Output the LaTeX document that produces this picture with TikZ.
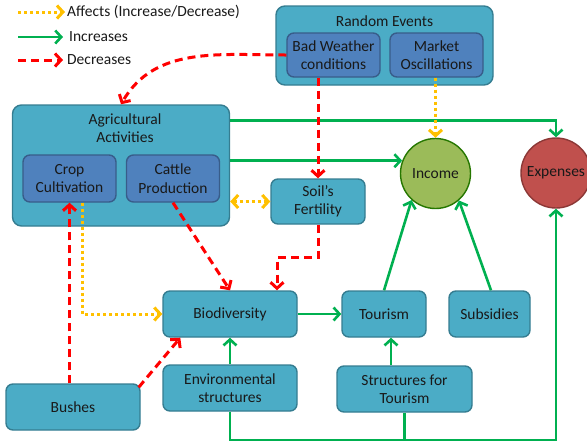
\documentclass[tikz,border=0pt]{standalone}
\usepackage{fontspec}
\setmainfont{Carlito}
\usepackage{xcolor}
\usetikzlibrary{arrows.meta, positioning, calc}
\definecolor{tealfill}{HTML}{4BACC6}
\definecolor{tealline}{HTML}{357D91}
\definecolor{bluefill}{HTML}{4F81BD}
\definecolor{blueline}{HTML}{385D8A}
\definecolor{incgreen}{HTML}{00B050}
\definecolor{decred}{HTML}{FF0000}
\definecolor{affyellow}{HTML}{FFC000}
\tikzstyle{group} = [rectangle, rounded corners=9pt, draw=tealline, fill=tealfill, line width=1.4pt]
\tikzstyle{factor} = [rectangle, rounded corners=7pt, draw=tealline, fill=tealfill, line width=1.4pt, align=center, inner sep=0pt]
\tikzstyle{sub} = [rectangle, rounded corners=7pt, draw=blueline, fill=bluefill, line width=1.4pt, align=center, inner sep=0pt]
\tikzstyle{money} = [circle, minimum size=70pt, inner sep=0pt, line width=1.4pt]
\tikzstyle{inc} = [draw=incgreen, line width=2.6pt, -{Straight Barb[length=6pt,width=13pt]}]
\tikzstyle{dec} = [draw=decred, line width=3pt, dash pattern=on 8pt off 5pt, -{Straight Barb[length=6pt,width=13pt]}]
\tikzstyle{aff} = [draw=affyellow, line width=3pt, dash pattern=on 3pt off 3pt, -{Straight Barb[length=6pt,width=13pt]}]

\begin{document}
\begin{tikzpicture}[x=1pt, y=1pt, font=\fontsize{15.5}{18.5}\selectfont, text=black!90]
\useasboundingbox (0,0) rectangle (587,-445);

% legend
\coordinate (laff) at (18,-12);
\coordinate (linc) at (18,-37);
\coordinate (ldec) at (18,-60);
\node (taff) [anchor=west, inner sep=2pt] at (65,-12) {Affects (Increase/Decrease)};
\node (tinc) [anchor=west, inner sep=2pt] at (67,-37) {Increases};
\node (tdec) [anchor=west, inner sep=2pt] at (65,-60) {Decreases};
\draw [aff] (laff) -- (taff.west);
\draw [inc] (linc) -- ([xshift=-4pt]tinc.west);
\draw [dec] (ldec) -- ([xshift=-2pt]tdec.west);

% groups
\node (rand) [group, minimum width=217pt, minimum height=79pt] at (384.5,-45.5) {};
\node (randt) at (384.5,-21) {Random Events};
\node (badw) [sub, minimum width=93pt, minimum height=44pt] at (333.5,-55) {Bad Weather\\conditions};
\node (mkt) [sub, minimum width=93pt, minimum height=44pt] at (436.5,-55) {Market\\Oscillations};

\node (agri) [group, minimum width=217pt, minimum height=121pt] at (121,-165.5) {};
\node (agrit) [align=center] at (125,-128) {Agricultural\\Activities};
\node (crop) [sub, minimum width=93pt, minimum height=47pt] at (69.5,-178.5) {Crop\\Cultivation};
\node (cattle) [sub, minimum width=93pt, minimum height=47pt] at (173,-178.5) {Cattle\\Production};

% factors
\node (soil) [factor, minimum width=94pt, minimum height=45pt] at (318,-201.5) {Soil's\\Fertility};
\node (income) [money, draw=green!45!black!70!olive, fill={rgb,255:red,155;green,187;blue,89}] at (435.5,-173.5) {Income};
\node (expn) [money, draw={rgb,255:red,140;green,56;blue,54}, fill={rgb,255:red,192;green,80;blue,77}] at (556,-173) {Expenses};
\node (bio) [factor, minimum width=134pt, minimum height=46pt] at (230,-314) {Biodiversity};
\node (tour) [factor, minimum width=84pt, minimum height=46pt] at (384,-314) {Tourism};
\node (subs) [factor, minimum width=81pt, minimum height=46pt] at (489.5,-314) {Subsidies};
\node (bush) [factor, minimum width=134pt, minimum height=46pt] at (73,-407) {\raisebox{-4pt}{Bushes}};
\node (env) [factor, minimum width=134pt, minimum height=46pt] at (230,-388) {Environmental\\structures};
\node (strt) [factor, minimum width=135pt, minimum height=46pt] at (404.5,-389) {Structures for\\Tourism};
\coordinate (low) at (230,-440);

% increases
\draw [inc] ([yshift=45pt]agri.east) -| (expn.north);
\draw [inc] (agri.east |- income.159) -- (income.159);
\draw [inc] (env.north) -- (bio.south);
\draw [inc] (bio.east) -- (tour.west);
\draw [inc] ([xshift=7pt]strt.north -| tour.south) -- ([xshift=7pt]tour.south);
\draw [inc] (tour.north) -- (income.228);
\draw [inc] ([xshift=1.5pt]subs.north) -- (income.311);
\draw [inc] (env.south) -- (low) -| (expn.south);
\draw [draw=incgreen, line width=2.6pt] (strt.south) -- (strt.south |- low);

% decreases
\draw [dec] (badw.west) to[out=180, in=60] (agri.north);
\draw [dec] (soil.north |- badw.south) -- (soil.north);
\draw [dec] (soil.south) -- ++(0,-33) -| ([xshift=47pt]bio.north);
\draw [dec] (cattle.south) -- (bio.north);
\draw [dec] (bush.north -| crop.south) -- (crop.south);
\draw [dec] ([xshift=-2pt,yshift=-4pt]bush.north east) -- ([xshift=18pt]bio.south west);

% affects
\draw [aff] ([xshift=13pt]crop.south) |- (bio.west);
\draw [aff, {Straight Barb[length=6pt,width=13pt]}-{Straight Barb[length=6pt,width=13pt]}] (agri.east |- soil.west) -- (soil.west);
\draw [aff] (income.north |- mkt.south) -- (income.north);
\end{tikzpicture}
\end{document}
